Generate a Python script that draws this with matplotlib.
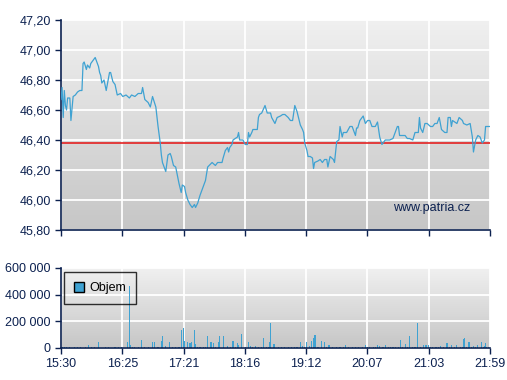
import numpy as np
import matplotlib
matplotlib.use("Agg")
import matplotlib.pyplot as plt
from matplotlib.ticker import FuncFormatter
from matplotlib.patches import Patch

# ---- data ----
tick_labels = ["15:30", "16:25", "17:21", "18:16", "19:12", "20:07", "21:03", "21:59"]
session_minutes = 389  # 15:30 -> 21:59

price_minutes = [0, 1, 2, 3, 4, 5, 6, 8, 9, 11, 13, 15, 17, 19, 20, 21, 23, 24, 26, 27,
                 29, 31, 32, 34, 35, 36, 37, 39, 41, 44, 45, 47, 49, 51, 54, 56, 59, 62, 64, 67,
                 70, 73, 74, 76, 79, 81, 83, 86, 88, 90, 91, 92, 95, 97, 99, 100, 102, 104, 107, 109,
                 110, 112, 113, 115, 117, 119, 121, 122, 124, 126, 128, 130, 131, 133, 137, 140, 142, 146, 147, 149,
                 151, 152, 153, 155, 156, 158, 160, 161, 162, 165, 167, 169, 170, 171, 173, 174, 178, 179, 180, 182,
                 185, 187, 190, 191, 194, 196, 199, 201, 203, 206, 208, 210, 212, 214, 217, 219, 220, 221, 223, 224,
                 226, 228, 229, 230, 233, 235, 237, 239, 241, 242, 244, 247, 248, 250, 252, 253, 255, 256, 259, 262,
                 264, 267, 268, 269, 271, 274, 276, 278, 280, 282, 285, 287, 289, 291, 292, 294, 297, 298, 301, 303,
                 305, 306, 307, 310, 312, 314, 316, 319, 321, 324, 325, 326, 328, 330, 332, 335, 337, 339, 341, 343,
                 345, 348, 350, 351, 353, 354, 355, 359, 361, 364, 365, 368, 371, 373, 374, 376, 378, 380, 382, 384,
                 385, 387, 389]
price_values = [46.67, 46.75, 46.55, 46.73, 46.63, 46.60, 46.68, 46.68, 46.53, 46.69, 46.70, 46.72, 46.73, 46.73, 46.91, 46.92, 46.87, 46.90, 46.88, 46.91,
                46.93, 46.95, 46.93, 46.89, 46.85, 46.83, 46.78, 46.80, 46.73, 46.85, 46.85, 46.79, 46.77, 46.70, 46.71, 46.69, 46.70, 46.68, 46.70, 46.69,
                46.71, 46.71, 46.75, 46.67, 46.65, 46.62, 46.69, 46.62, 46.49, 46.38, 46.30, 46.25, 46.19, 46.30, 46.31, 46.29, 46.23, 46.22, 46.11, 46.05,
                46.10, 46.09, 46.05, 46.00, 45.97, 45.95, 45.97, 45.95, 45.98, 46.03, 46.07, 46.11, 46.13, 46.22, 46.25, 46.23, 46.25, 46.25, 46.28, 46.33,
                46.35, 46.32, 46.35, 46.37, 46.40, 46.41, 46.42, 46.45, 46.40, 46.40, 46.37, 46.37, 46.45, 46.42, 46.45, 46.47, 46.47, 46.55, 46.57, 46.58,
                46.63, 46.58, 46.58, 46.55, 46.51, 46.55, 46.56, 46.57, 46.57, 46.55, 46.53, 46.53, 46.63, 46.59, 46.50, 46.47, 46.45, 46.38, 46.33, 46.29,
                46.29, 46.28, 46.21, 46.25, 46.26, 46.27, 46.25, 46.27, 46.27, 46.22, 46.29, 46.27, 46.25, 46.39, 46.40, 46.49, 46.42, 46.45, 46.45, 46.49,
                46.49, 46.43, 46.48, 46.48, 46.53, 46.56, 46.51, 46.53, 46.53, 46.49, 46.49, 46.52, 46.42, 46.37, 46.38, 46.40, 46.40, 46.40, 46.41, 46.45,
                46.49, 46.49, 46.43, 46.43, 46.43, 46.41, 46.41, 46.40, 46.45, 46.45, 46.55, 46.48, 46.45, 46.51, 46.51, 46.49, 46.49, 46.51, 46.51, 46.55,
                46.47, 46.45, 46.45, 46.55, 46.55, 46.49, 46.53, 46.51, 46.55, 46.53, 46.51, 46.50, 46.51, 46.42, 46.32, 46.40, 46.43, 46.42, 46.38, 46.40,
                46.49, 46.49, 46.49]
reference_price = 46.38

volume_minutes = [3, 5, 12, 22, 25, 34, 40, 49, 60, 62, 63, 65, 67, 73, 79, 83, 85, 91, 92, 95,
                  98, 104, 109, 111, 112, 115, 117, 118, 121, 122, 126, 133, 136, 138, 143, 144, 147, 151, 156, 160,
                  161, 164, 170, 172, 176, 179, 184, 188, 189, 190, 193, 194, 203, 212, 217, 219, 223, 225, 227, 229,
                  230, 231, 236, 239, 243, 258, 264, 276, 280, 287, 289, 294, 303, 306, 308, 312, 316, 319, 323, 329,
                  331, 333, 337, 344, 350, 354, 359, 364, 365, 366, 370, 374, 378, 381, 384, 385, 388]
volume_values = [8000, 8000, 5000, 8000, 22000, 45000, 8000, 5000, 45000, 465000, 20000, 10000, 10000, 60000, 10000, 45000, 45000, 55000, 90000, 15000,
                 45000, 10000, 135000, 150000, 55000, 45000, 40000, 45000, 135000, 30000, 8000, 90000, 45000, 35000, 45000, 90000, 90000, 15000, 55000, 40000,
                 25000, 105000, 45000, 15000, 15000, 10000, 75000, 10000, 45000, 190000, 30000, 30000, 8000, 10000, 45000, 15000, 45000, 15000, 55000, 75000,
                 95000, 95000, 55000, 45000, 20000, 20000, 10000, 20000, 10000, 20000, 15000, 20000, 10000, 10000, 60000, 30000, 90000, 10000, 190000, 25000,
                 20000, 25000, 10000, 15000, 40000, 20000, 25000, 10000, 70000, 75000, 45000, 15000, 20000, 45000, 15000, 35000, 10000]
small_volume_minutes = [1, 8, 15, 18, 28, 30, 43, 52, 55, 70, 76, 88, 101, 107, 124, 129, 131, 140, 154, 158,
                        167, 174, 182, 186, 197, 200, 206, 209, 214, 221, 233, 241, 246, 250, 253, 256, 261, 267, 270, 273,
                        278, 283, 285, 292, 297, 299, 301, 310, 314, 321, 326, 335, 340, 342, 347, 352, 357, 362, 368, 372,
                        376, 383, 386]
small_volume_values = [5000] * len(small_volume_minutes)

# ---- style ----
navy = "#0c2150"
blue = "#3fa2d2"
plt.rcParams["font.family"] = ["Liberation Sans", "DejaVu Sans"]

fig = plt.figure(figsize=(5.07, 3.80), dpi=100)
fig.patch.set_facecolor("white")
ax = fig.add_axes([61/507, 1-230/380, 429/507, 210/380])
axv = fig.add_axes([61/507, 1-348/380, 429/507, 80/380])

tick_pos = np.linspace(0, session_minutes, len(tick_labels))

def gradient(a, top, bottom):
    g = np.linspace(0, 1, 256).reshape(-1, 1)
    c1 = np.array(matplotlib.colors.to_rgb(top))
    c2 = np.array(matplotlib.colors.to_rgb(bottom))
    img = c1[None, None, :] * (1 - g[:, :, None]) + c2[None, None, :] * g[:, :, None]
    a.imshow(img, extent=[0, 1, 0, 1], transform=a.transAxes, aspect="auto", zorder=0)

for a in (ax, axv):
    gradient(a, "#f0f0f0", "#c6c6c6")
    a.set_xlim(0, session_minutes)
    a.set_xticks(tick_pos)
    a.grid(True, color="white", linewidth=1.3, zorder=1)
    a.set_axisbelow(True)
    for s in ("top", "right"):
        a.spines[s].set_visible(False)
    for s in ("left", "bottom"):
        a.spines[s].set_color(navy)
        a.spines[s].set_linewidth(1.2)
    a.tick_params(colors=navy, labelcolor=navy, labelsize=9, length=4, width=1, direction="out")

# price panel
ax.set_ylim(45.80, 47.20)
yt = np.arange(45.80, 47.21, 0.20)
ax.set_yticks(yt)
ax.yaxis.set_major_formatter(FuncFormatter(lambda v, p: f"{v:.2f}".replace(".", ",")))
ax.set_xticklabels([])
ax.plot(price_minutes, price_values, color=blue, linewidth=0.9, zorder=3)
ax.axhline(reference_price, color="#e42222", linewidth=1.2, zorder=2)
ax.text(0.955, 0.075, "www.patria.cz", transform=ax.transAxes, ha="right", va="bottom",
        color=navy, fontsize=9, zorder=4)

# volume panel
axv.set_ylim(0, 600000)
axv.set_yticks([0, 200000, 400000, 600000])
axv.yaxis.set_major_formatter(FuncFormatter(lambda v, p: f"{int(v):,}".replace(",", " ")))
axv.set_xticklabels(tick_labels)
axv.bar(small_volume_minutes, small_volume_values, width=1.0, color=blue, zorder=2)
axv.bar(volume_minutes, volume_values, width=1.0, color=blue, zorder=2)
handle = Patch(facecolor=blue, edgecolor="black", linewidth=1)
leg = axv.legend([handle], ["Objem"], loc="upper left", bbox_to_anchor=(0.008, 0.95),
                 fancybox=False, fontsize=9, handlelength=0.8, handleheight=0.8,
                 handletextpad=0.4, borderpad=0.8, borderaxespad=0.0)
fr = leg.get_frame()
fr.set_facecolor("none")
fr.set_edgecolor("black")
fr.set_linewidth(1.0)
leg.set_zorder(6)

fig.savefig("out.png", dpi=100)
